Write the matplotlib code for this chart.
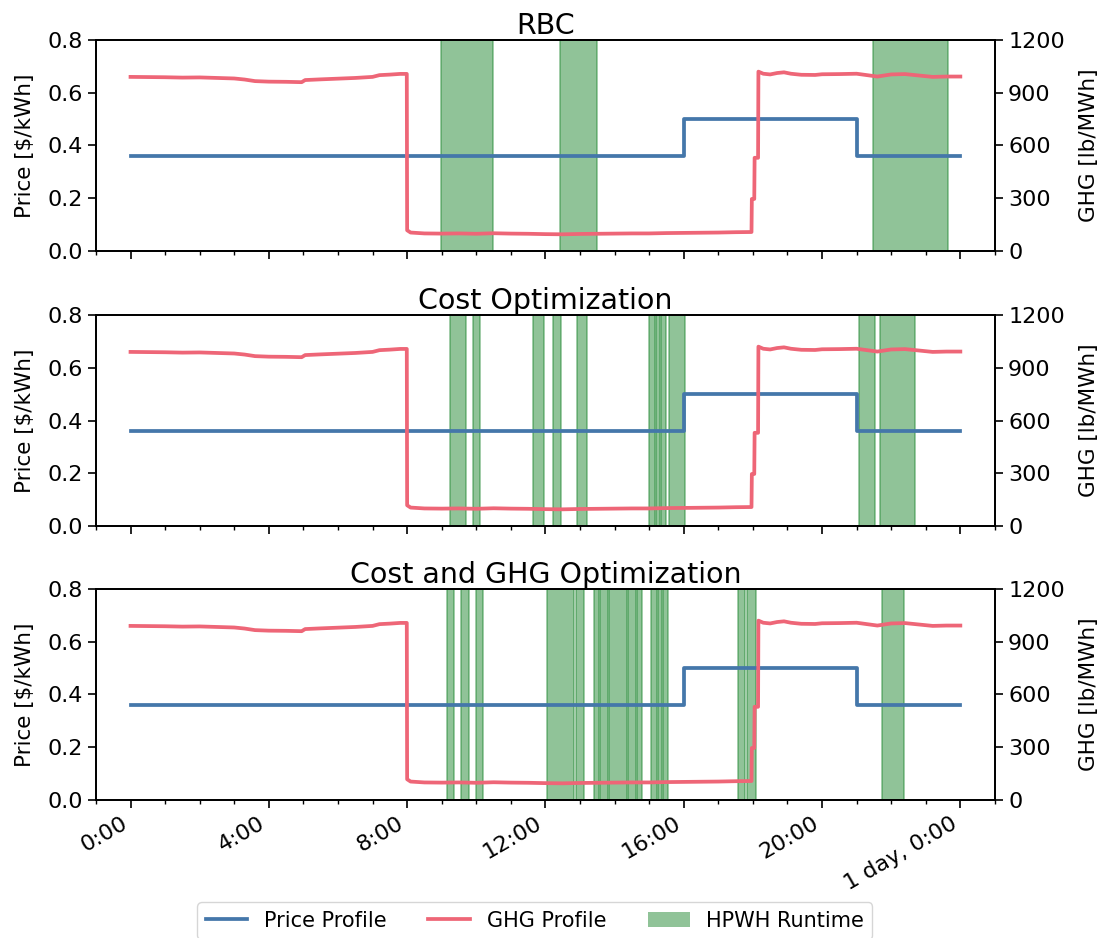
import matplotlib
matplotlib.use("Agg")
import matplotlib.pyplot as plt
import matplotlib.ticker as ticker
from matplotlib.lines import Line2D
from matplotlib.patches import Patch

# Time-of-use price ($/kWh), held until the next breakpoint
PRICE_HOURS = [0.0, 16.0, 21.0, 24.0]
PRICE_VALUES = [0.36, 0.50, 0.36, 0.36]

# Marginal GHG emissions (lb/MWh)
GHG_HOURS = [
    0.0, 0.5, 1.0, 1.5, 2.0, 2.5, 3.0, 3.3, 3.6, 4.0, 4.5, 4.95, 5.05, 5.5,
    6.0, 6.5, 7.0, 7.2, 7.5, 7.8, 7.99, 8.0, 8.1, 8.5, 9.0, 9.5, 10.0, 10.5,
    11.0, 11.5, 12.0, 12.5, 13.0, 13.5, 14.0, 14.5, 15.0, 15.5, 16.0, 16.5,
    17.0, 17.5, 17.96, 17.97, 18.04, 18.05, 18.15, 18.16, 18.3, 18.5, 18.7,
    18.9, 19.1, 19.4, 19.8, 20.0, 20.5, 21.0, 21.3, 21.6, 22.0, 22.4, 22.8,
    23.2, 23.6, 24.0,
]
GHG_VALUES = [
    990, 989, 988, 986, 987, 984, 981, 975, 966, 963, 962, 960, 972, 976,
    980, 984, 990, 1000, 1003, 1007, 1007, 118, 105, 100, 99, 100, 98, 101,
    99, 98, 96, 95, 97, 98, 99, 100, 100, 102, 103, 104,
    105, 107, 108, 296, 296, 530, 530, 1020, 1008, 1004, 1012,
    1016, 1008, 1002, 1001, 1005, 1006, 1008, 1000, 992, 1004, 1006, 998,
    990, 992, 992,
]

# Heat pump water heater on-periods (start hour, end hour) per controller
RBC_RUNS = [(8.97, 10.48), (12.43, 13.50), (21.47, 23.63)]
COST_RUNS = [
    (9.23, 9.69), (9.91, 10.12), (11.65, 11.95), (12.22, 12.46),
    (12.90, 13.21), (14.99, 15.17), (15.20, 15.30), (15.33, 15.50),
    (15.57, 16.03), (21.06, 21.52), (21.67, 22.68),
]
COST_GHG_RUNS = [
    (9.14, 9.35), (9.56, 9.78), (9.99, 10.19), (12.05, 12.82),
    (12.87, 13.11), (13.40, 13.55), (13.58, 13.82), (13.85, 14.35),
    (14.38, 14.62), (14.65, 14.78), (15.06, 15.23), (15.25, 15.37),
    (15.40, 15.54), (17.57, 17.78), (17.83, 18.10), (21.74, 22.36),
]

PANEL_TITLES = ["RBC", "Cost Optimization", "Cost and GHG Optimization"]
PANEL_RUNS = [RBC_RUNS, COST_RUNS, COST_GHG_RUNS]

HOUR_TICKS = [0, 4, 8, 12, 16, 20, 24]
HOUR_LABELS = ["0:00", "4:00", "8:00", "12:00", "16:00", "20:00", "1 day, 0:00"]

PRICE_COLOR = "#4477AA"
GHG_COLOR = "#EE6677"
RUN_COLOR = "#228833"

plt.rcParams["font.family"] = ["DejaVu Sans"]
plt.rcParams["axes.linewidth"] = 1.3

fig = plt.figure(figsize=(11.03, 9.38), dpi=100)

# [left, bottom, width, height] in figure fractions
panel_boxes = [
    [0.087, 0.7324, 0.815, 0.2250],
    [0.087, 0.4392, 0.815, 0.2250],
    [0.087, 0.1471, 0.815, 0.2250],
]

for i, (title, runs, box) in enumerate(zip(PANEL_TITLES, PANEL_RUNS, panel_boxes)):
    ax = fig.add_axes(box)
    for start, end in runs:
        ax.axvspan(start, end, color=RUN_COLOR, alpha=0.5, lw=1.2, zorder=1)
    ax.plot(PRICE_HOURS, PRICE_VALUES, drawstyle="steps-post",
            color=PRICE_COLOR, lw=2.7, zorder=3)

    ax2 = ax.twinx()
    ax2.plot(GHG_HOURS, GHG_VALUES, color=GHG_COLOR, lw=2.7, zorder=3)

    ax.set_xlim(-1.0, 25.0)
    ax.set_ylim(0, 0.8)
    ax2.set_ylim(0, 1200)
    ax.yaxis.set_major_locator(ticker.MultipleLocator(0.2))
    ax2.yaxis.set_major_locator(ticker.MultipleLocator(300))
    ax.yaxis.set_major_formatter(ticker.FormatStrFormatter("%.1f"))

    ax.set_xticks(HOUR_TICKS)
    ax.xaxis.set_minor_locator(ticker.MultipleLocator(1))
    if i == len(PANEL_TITLES) - 1:
        ax.set_xticklabels(HOUR_LABELS, rotation=30, ha="right")
    else:
        ax.set_xticklabels([])

    for a in (ax, ax2):
        a.tick_params(which="major", length=6, width=1.2, labelsize=16)
        a.tick_params(which="minor", length=3.2, width=1.0)

    ax.set_ylabel("Price [$/kWh]", fontsize=15.5, labelpad=9)
    ax2.set_ylabel("GHG [lb/MWh]", fontsize=15.5, labelpad=10)
    ax.set_title(title, fontsize=20.5, pad=3)

handles = [
    Line2D([], [], color=PRICE_COLOR, lw=2.7, label="Price Profile"),
    Line2D([], [], color=GHG_COLOR, lw=2.7, label="GHG Profile"),
    Patch(facecolor=RUN_COLOR, alpha=0.5, label="HPWH Runtime"),
]
fig.legend(handles=handles, loc="upper center", bbox_to_anchor=(0.485, 0.049),
           ncol=3, fontsize=15, frameon=True, columnspacing=2.0)

fig.savefig("out.png", dpi=100)
plt.close(fig)
